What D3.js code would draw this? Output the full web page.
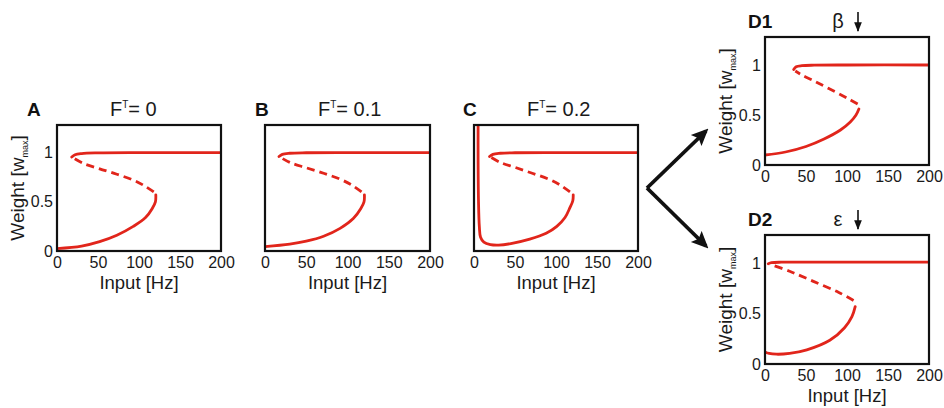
<!DOCTYPE html>
<html><head><meta charset="utf-8">
<script src="https://cdn.jsdelivr.net/npm/d3@7"></script>
<style>body{margin:0;background:#fff} svg text{font-family:"Liberation Sans",Arial,Helvetica,sans-serif}</style>
</head><body><svg id="c" width="944" height="408"></svg>
<script>
// ---- data ----
const xTicks = [0, 50, 100, 150, 200];
const yTicks = [0, 0.5, 1];
const xDomain = [0, 200];
const yDomain = [0, 1.28];

// Panel A (F^T = 0)
const A_lower = [[0,0.025],[30,0.05],[52,0.095],[73,0.16],[93,0.25],[108,0.34],[116,0.43],[120,0.5],[120.5,0.57]];
const A_unstable = [[118,0.6],[105,0.67],[93,0.72],[73,0.78],[52,0.835],[32,0.89],[20,0.945]];
const A_upper = [[18,0.955],[22,0.978],[30,0.99],[50,0.997],[100,1],[200,1]];
// Panel B (F^T = 0.1)
const B_lower = [[0,0.045],[30,0.07],[50,0.1],[71,0.15],[91,0.23],[107,0.33],[116,0.43],[120,0.5],[120.5,0.57]];
const B_unstable = [[117,0.6],[105,0.67],[91,0.73],[71,0.79],[50,0.845],[30,0.9],[19,0.95]];
const B_upper = [[17,0.96],[21,0.982],[30,0.993],[50,0.998],[100,1],[200,1]];
// Panel C (F^T = 0.2)
const C_lower = [[5,1.35],[5,0.9],[5.5,0.5],[6.5,0.25],[8,0.14],[12,0.09],[20,0.065],[30,0.06],[45,0.075],[68,0.12],[88,0.18],[101,0.25],[111,0.34],[117,0.44],[120.5,0.51],[121,0.57]];
const C_unstable = [[117,0.6],[105,0.67],[91,0.73],[71,0.79],[50,0.85],[32,0.9],[21,0.95]];
const C_upper = [[19,0.96],[23,0.982],[32,0.993],[50,0.998],[100,1],[200,1]];
// Panel D1 (beta decreased)
const D1_lower = [[0,0.1],[25,0.13],[50,0.185],[72,0.26],[92,0.35],[104,0.43],[111,0.5],[114.5,0.56]];
const D1_unstable = [[113,0.61],[100,0.67],[79,0.76],[60,0.84],[45,0.9],[37,0.94]];
const D1_upper = [[35,0.955],[38,0.982],[45,0.993],[60,0.998],[100,1],[200,1]];
// Panel D2 (epsilon decreased)
const D2_lower = [[0,0.12],[5,0.105],[14,0.097],[30,0.105],[51,0.14],[79,0.235],[97,0.36],[106,0.47],[110,0.57]];
const D2_unstable = [[108,0.63],[90,0.71],[59,0.82],[30,0.92],[6,0.99]];
const D2_upper = [[4,0.995],[8,1.005],[20,1.01],[60,1.01],[200,1.01]];

// ---- layout ----
const panels = [
  {letter:'A', title:'0', x:57, y:125, w:164, h:126, lower:A_lower, unstable:A_unstable, upper:A_upper, yAxis:true, xLabel:true, letterDx:-30},
  {letter:'B', title:'0.1', x:265, y:125, w:165, h:126, lower:B_lower, unstable:B_unstable, upper:B_upper, yAxis:false, xLabel:true, letterDx:-10},
  {letter:'C', title:'0.2', x:474, y:125, w:164, h:126, lower:C_lower, unstable:C_unstable, upper:C_upper, yAxis:false, xLabel:true, letterDx:-11},
  {letter:'D1', sym:'β', x:765, y:37, w:164, h:128, lower:D1_lower, unstable:D1_unstable, upper:D1_upper, yAxis:true, xLabel:false, letterDx:-17},
  {letter:'D2', sym:'ε', x:765, y:235, w:164, h:129, lower:D2_lower, unstable:D2_unstable, upper:D2_upper, yAxis:true, xLabel:true, letterDx:-17}
];

const svg = d3.select('#c');
const RED = '#e1251b';
const TXT = '#1a1a1a';
const defs = svg.append('defs');
defs.append('marker').attr('id','ah').attr('viewBox','0 0 10 10').attr('refX',8).attr('refY',5)
  .attr('markerWidth',4.5).attr('markerHeight',4.5).attr('orient','auto')
  .append('path').attr('d','M0,0.5 L10,5 L0,9.5 L2,5 Z').attr('fill','#111');
defs.append('marker').attr('id','ahs').attr('viewBox','0 0 10 10').attr('refX',9).attr('refY',5)
  .attr('markerWidth',6).attr('markerHeight',6).attr('orient','auto')
  .append('path').attr('d','M0,1 L10,5 L0,9 Z').attr('fill','#111');

panels.forEach((p, i) => {
  const x = d3.scaleLinear().domain(xDomain).range([p.x, p.x + p.w]);
  const y = d3.scaleLinear().domain(yDomain).range([p.y + p.h, p.y]);
  const g = svg.append('g');
  defs.append('clipPath').attr('id', 'clip' + i).append('rect')
    .attr('x', p.x).attr('y', p.y).attr('width', p.w).attr('height', p.h);
  const cg = g.append('g').attr('clip-path', `url(#clip${i})`);
  const line = d3.line().x(d => x(d[0])).y(d => y(d[1])).curve(d3.curveCatmullRom.alpha(0.5));
  cg.append('path').attr('d', line(p.lower)).attr('fill','none').attr('stroke',RED).attr('stroke-width',2.8).attr('stroke-linecap','round');
  cg.append('path').attr('d', line(p.unstable)).attr('fill','none').attr('stroke',RED).attr('stroke-width',2.8).attr('stroke-dasharray','8,5');
  cg.append('path').attr('d', line(p.upper)).attr('fill','none').attr('stroke',RED).attr('stroke-width',2.8).attr('stroke-linecap','round');

  // frame
  g.append('rect').attr('x', p.x).attr('y', p.y).attr('width', p.w).attr('height', p.h)
    .attr('fill','none').attr('stroke','#111').attr('stroke-width',2.2);

  // x axis
  const xa = g.append('g').attr('transform', `translate(0,${p.y + p.h})`)
    .call(d3.axisBottom(x).tickValues(xTicks).tickSize(0).tickPadding(6).tickFormat(d3.format('d')));
  xa.select('.domain').remove();
  xa.selectAll('text').attr('font-size', 16).attr('fill',TXT).style('font-family','"Liberation Sans",Arial,sans-serif');

  if (p.yAxis) {
    const ya = g.append('g').attr('transform', `translate(${p.x},0)`)
      .call(d3.axisLeft(y).tickValues(yTicks).tickSize(0).tickPadding(4).tickFormat(d => d === 0.5 ? '0.5' : d3.format('d')(d)));
    ya.select('.domain').remove();
    ya.selectAll('text').attr('font-size', 16).attr('fill',TXT).style('font-family','"Liberation Sans",Arial,sans-serif');
    const yl = g.append('text').attr('transform', `translate(${p.x - 33},${p.y + p.h / 2}) rotate(-90)`)
      .attr('text-anchor','middle').attr('font-size', 19).attr('fill',TXT);
    yl.append('tspan').text('Weight [w');
    yl.append('tspan').attr('font-size', 9).attr('dy', 4).text('max');
    yl.append('tspan').attr('dy', -4).text(']');
  }
  if (p.xLabel) {
    g.append('text').attr('x', p.x + p.w / 2).attr('y', p.y + p.h + 38)
      .attr('text-anchor','middle').attr('font-size', 18.5).attr('fill',TXT).text('Input [Hz]');
  }
  // panel letter
  g.append('text').attr('x', p.x + p.letterDx).attr('y', p.y - 9)
    .attr('font-size', 19).attr('font-weight','bold').attr('fill','#111').text(p.letter);
  if (p.title !== undefined) {
    const t = g.append('text').attr('x', p.x + 53).attr('y', p.y - 9).attr('font-size', 20).attr('fill',TXT);
    t.append('tspan').text('F');
    t.append('tspan').attr('font-size', 10).attr('dy', -8).text('T');
    t.append('tspan').attr('dy', 8).text('= ' + p.title);
  } else {
    g.append('text').attr('x', p.x + 73).attr('y', p.y - 9).attr('text-anchor','middle')
      .attr('font-size', 20).attr('fill',TXT).text(p.sym);
    g.append('line').attr('x1', p.x + 93).attr('x2', p.x + 93).attr('y1', p.y - 25).attr('y2', p.y - 6)
      .attr('stroke','#111').attr('stroke-width',1.6).attr('marker-end','url(#ahs)');
  }
});

// branching arrows between C and D panels
const vertex = [647, 188];
[[706, 131], [706, 246]].forEach(tip => {
  svg.append('line').attr('x1', vertex[0]).attr('y1', vertex[1]).attr('x2', tip[0]).attr('y2', tip[1])
    .attr('stroke','#111').attr('stroke-width',3.8).attr('stroke-linecap','butt').attr('marker-end','url(#ah)');
});
</script></body></html>
